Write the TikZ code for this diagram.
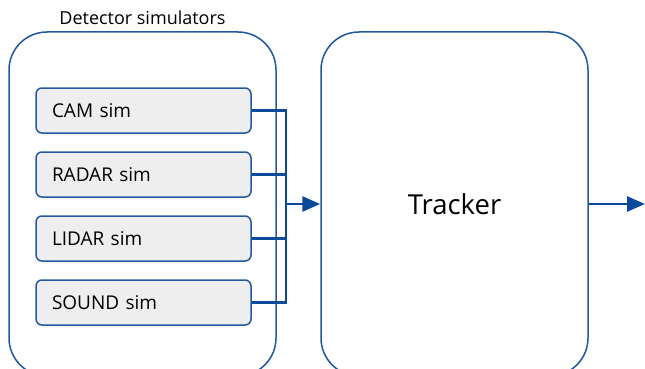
\documentclass[tikz,border=0pt]{standalone}
\usepackage{fontspec}
\setmainfont{Open Sans}
\usetikzlibrary{arrows.meta}

\definecolor{boxblue}{HTML}{2058A4}
\definecolor{wireblue}{HTML}{0B4A9B}
\definecolor{simgray}{HTML}{EEEEEE}

\tikzset{
    group/.style={draw=boxblue, line width=1.5pt, rounded corners=38pt},
    simbox/.style={draw=boxblue, line width=1.5pt, fill=simgray, rounded corners=6pt,
        minimum width=215pt, minimum height=45pt, text width=183pt, align=left,
        font=\fontsize{19}{22}\selectfont},
    wire/.style={wireblue, line width=2.8pt},
    feed/.style={wire, -{Triangle[length=18pt, width=15pt]}}
}

\begin{document}
\begin{tikzpicture}[x=1pt, y=-1pt]
        \useasboundingbox (0, 0) rectangle (645, 369);
        \clip (0, 0) rectangle (645, 369);
        
        % Boxes
        \node[group, minimum width=267pt, minimum height=344pt,
            label={[font=\fontsize{18}{21}\selectfont, inner sep=0pt, anchor=base, label distance=7pt]above:Detector simulators}]
            (detsim) at (142.5, 204) {};
        \node[group, minimum width=267pt, minimum height=344pt,
            font=\fontsize{27.5}{32}\selectfont] (tracker) at (454.5, 204) {Tracker};
        
        % Simulators
        \foreach \name/\txt/\y in {cam/CAM sim/110.5, radar/RADAR sim/174.5,
                                   lidar/LIDAR sim/238.5, sound/SOUND sim/302.5} {
            \node[simbox] (\name) at (143.5, \y) {\txt};
        }
        
        % Bus
        \coordinate (bustop) at (286, 110.5);
        \coordinate (busbot) at (286, 302.5);
        \coordinate (busmid) at (286, 204);
        \coordinate (out) at (645, 204);
        
        \draw[wire] (cam.east) -- (bustop) -- (busbot) -- (sound.east);
        \draw[wire] (radar.east) -- (radar.east -| bustop);
        \draw[wire] (lidar.east) -- (lidar.east -| bustop);
        \draw[feed] (busmid) -- (tracker.west);
        \draw[feed] (tracker.east) -- (out);
        
    \end{tikzpicture}
\end{document}
